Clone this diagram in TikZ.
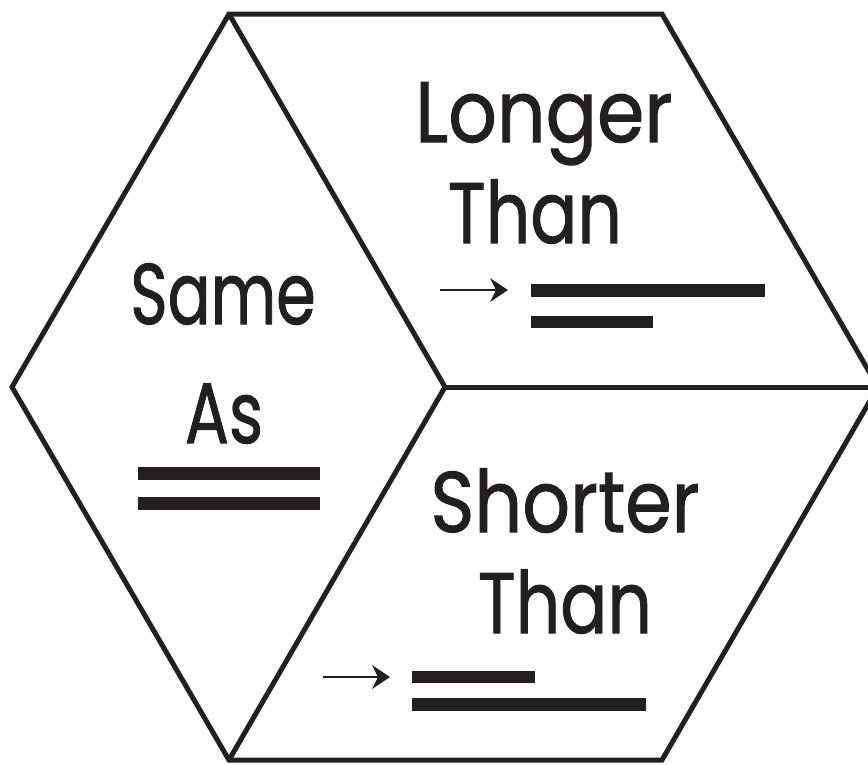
\documentclass[tikz,border=0pt]{standalone}
\usepackage{fontspec}
\setmainfont{Poppins}
\newfontfamily\labelfont[FakeBold=1.2]{Poppins}
\definecolor{ink}{HTML}{231F20}
\tikzset{
  edge/.style={line width=5pt, line join=miter, draw=ink},
  label/.style={anchor=base, inner sep=0pt, font=\labelfont\fontsize{86}{86}\selectfont, text=ink},
  bar/.style={fill=ink, draw=none},
  shaft/.style={line width=2.6pt, draw=ink},
  head/.style={fill=ink, draw=none}
}
\begin{document}
\begin{tikzpicture}[x=1pt,y=-1pt]
\useasboundingbox (0,0) rectangle (868,764);
\clip (0,0) rectangle (868,764);
% hexagon vertices
\coordinate (TL) at (229,14);
\coordinate (TR) at (662,14);
\coordinate (R) at (878,387);
\coordinate (BR) at (662,760);
\coordinate (BL) at (229,760);
\coordinate (L) at (12,387);
\coordinate (C) at (445,387);
\draw[edge] (TL) -- (TR) -- (R) -- (BR) -- (BL) -- (L) -- cycle;
\draw[edge] (TL) -- (C) -- (BL);
\draw[edge] (C) -- (R);
% labels
\node[label] (longer) at (544,142) {\scalebox{0.885}[1]{Longer}};
\node[label] (than1) at (535,243) {\scalebox{0.81}[1]{Than}};
\node[label] (same) at (223,324) {\scalebox{0.74}[1]{Same}};
\node[label] (as) at (224,443) {\scalebox{0.76}[1]{As}};
\node[label] (shorter) at (565,532) {\scalebox{0.87}[1]{Shorter}};
\node[label] (than2) at (565,633) {\scalebox{0.81}[1]{Than}};
% bars
\fill[bar] (531,284) rectangle (765,297);
\fill[bar] (531,316) rectangle (653,328);
\fill[bar] (138,467) rectangle (320,480);
\fill[bar] (138,497) rectangle (320,510);
\fill[bar] (412,671) rectangle (535,683);
\fill[bar] (412,698) rectangle (646,711);
% arrows
\coordinate (a1s) at (440,290);
\coordinate (a1e) at (508,290);
\coordinate (a2s) at (323,677);
\coordinate (a2e) at (390,677);
\draw[shaft] (a1s) -- ++(58,0);
\fill[head] (a1e) -- ++(-18,-12) -- ++(6,12) -- ++(-6,12) -- cycle;
\draw[shaft] (a2s) -- ++(57,0);
\fill[head] (a2e) -- ++(-18,-12) -- ++(6,12) -- ++(-6,12) -- cycle;
\end{tikzpicture}
\end{document}
